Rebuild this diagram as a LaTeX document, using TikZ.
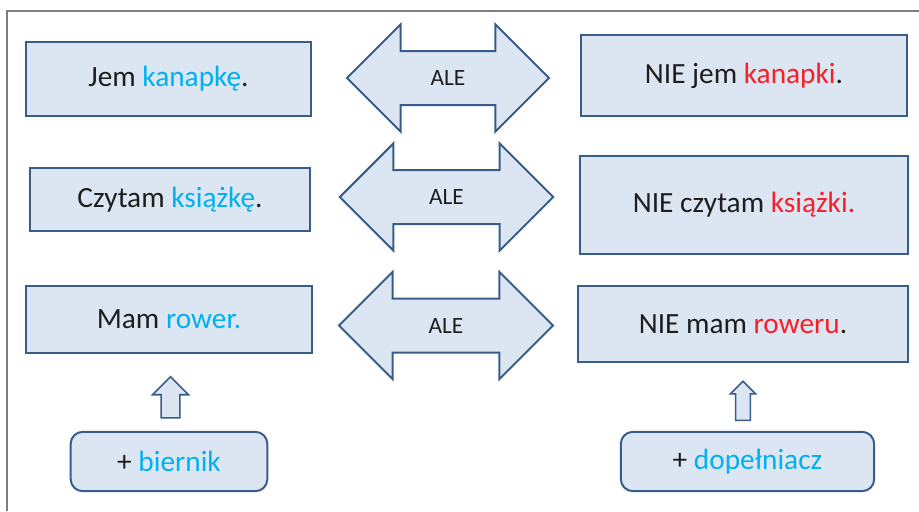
\documentclass[tikz,border=0pt]{standalone}
\usepackage{fontspec}
\setmainfont{Carlito}
\usetikzlibrary{shapes.arrows}
\definecolor{boxfill}{RGB}{220,230,242}
\definecolor{boxline}{RGB}{56,93,138}
\definecolor{caseblue}{RGB}{0,176,240}
\definecolor{negred}{RGB}{250,30,40}
\definecolor{txt}{RGB}{30,30,30}
\definecolor{framegray}{RGB}{125,125,125}
\newcommand{\cblue}[1]{\textcolor{caseblue}{#1}}
\newcommand{\cred}[1]{\textcolor{negred}{#1}}

\begin{document}
\begin{tikzpicture}[x=0.75pt,y=-0.75pt]
% Node styles ---
\tikzstyle{sen} = [rectangle, line width = 1.5pt, draw = boxline, fill = boxfill, text = txt, font = \fontsize{22}{26}\selectfont] % Sentences
\tikzstyle{cas} = [sen, rounded corners = 9pt] % Cases
\tikzstyle{ale} = [double arrow, line width = 1.5pt, draw = boxline, fill = boxfill, text = txt, font = \fontsize{17.5}{20}\selectfont, text height = 11.3pt, text depth = 0pt, inner ysep = 13.85pt, double arrow head extend = 19.9pt] % ALE arrows
\tikzstyle{up} = [single arrow, rotate = 90, line width = 1.2pt, draw = boxline, fill = boxfill, inner sep = 0pt] % Small arrows
% Begin Figure ---
\useasboundingbox (0,0) rectangle (919,511);
\draw [line width = 1pt, draw = framegray] (7,511) -- (7,11) -- (919,11);
% Nodes
\node at (168.5,79) [sen, minimum width = 214pt, minimum height = 56pt] (pos1) {Jem \cblue{kanapkę}.};
\node at (170,199.5) [sen, minimum width = 210pt, minimum height = 47.5pt] (pos2) {Czytam \cblue{książkę}.};
\node at (169,319.5) [sen, minimum width = 215pt, minimum height = 50.5pt] (pos3) {Mam \cblue{rower.}};
\node at (744,75.5) [sen, minimum width = 245pt, minimum height = 61pt] (neg1) {NIE jem \cred{kanapki}.};
\node at (744,205) [sen, minimum width = 246pt, minimum height = 74pt] (neg2) {NIE czytam \cred{książki.}};
\node at (743,324) [sen, minimum width = 248pt, minimum height = 57.5pt] (neg3) {NIE mam \cred{roweru}.};
\node at (169,461.5) [cas, minimum width = 147.5pt, minimum height = 44.5pt] (acc) {+ \cblue{biernik}};
\node at (747.5,461.5) [cas, minimum width = 190pt, minimum height = 44.5pt] (gen) {+ \cblue{dopełniacz}};
\node at (448,78) [ale, minimum height = 151.5pt] (ale1) {ALE};
\node at (446.5,197) [ale, minimum height = 160pt] (ale2) {ALE};
\node at (446,325.5) [ale, minimum height = 160.5pt] (ale3) {ALE};
\node at (170.5,402) [up, minimum height = 30.75pt, inner ysep = 6.4pt, single arrow head extend = 6.4pt] (upacc) {};
\node at (743,404.5) [up, minimum height = 29.25pt, inner ysep = 4.9pt, single arrow head extend = 3.9pt] (upgen) {};
\end{tikzpicture}
\end{document}
